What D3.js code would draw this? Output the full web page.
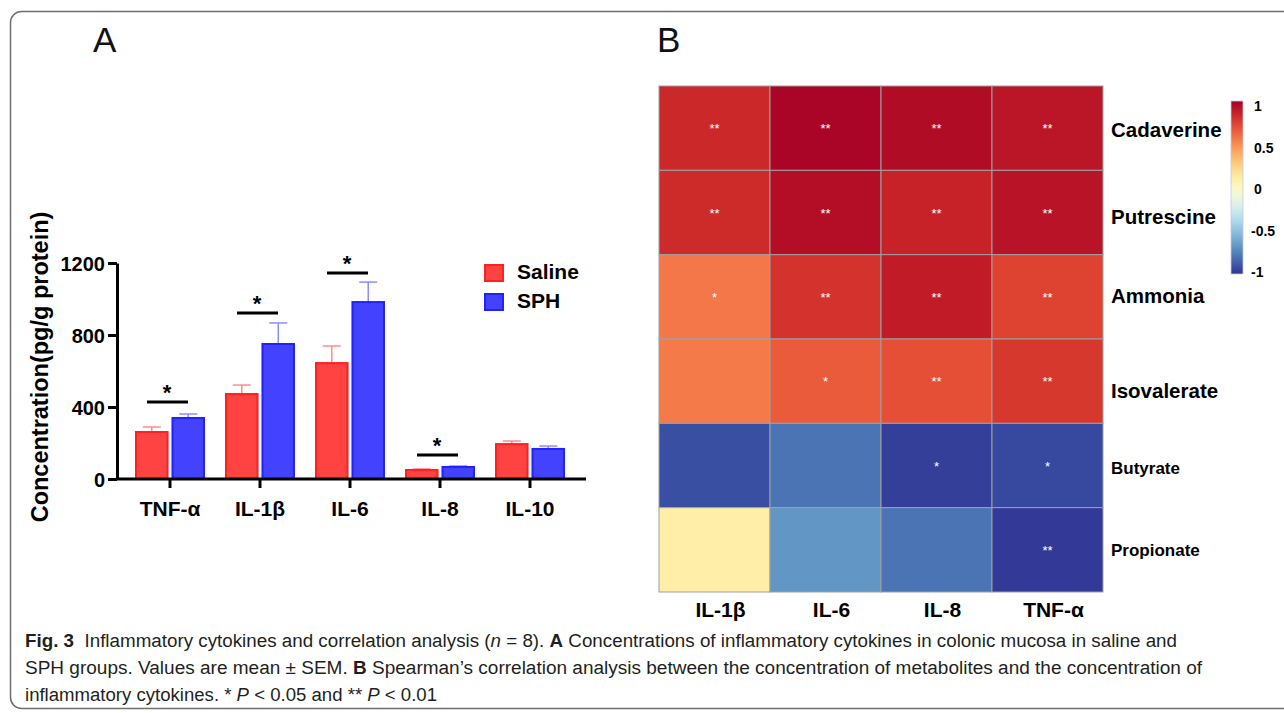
<!DOCTYPE html>
<html>
<head>
<meta charset="utf-8">
<script src="https://cdn.jsdelivr.net/npm/d3@7"></script>
<style>
  body { margin: 0; background: #fff; }
  svg text { font-family: "Liberation Sans", Arial, sans-serif; }
  .caption text { font-family: "Liberation Sans Narrow", "Liberation Sans", sans-serif; }
</style>
</head>
<body>
<svg id="fig" width="1284" height="713"></svg>
<script>
// panel A: cytokine concentrations (pg/g protein), mean and SEM
const cytokines = ['TNF-α', 'IL-1β', 'IL-6', 'IL-8', 'IL-10']
const groups = ['Saline', 'SPH']
const salineMean = [261, 472, 644, 50, 194]
const salineSem = [28, 50, 95, 6, 17]
const sphMean = [339, 750, 983, 67, 167]
const sphSem = [22, 117, 111, 5, 16]
const bracketLevel = [428, 922, 1144, 133, null]
const yTicks = [0, 400, 800, 1200]

// panel B: Spearman correlation, metabolites x cytokines
const metabolites = ['Cadaverine', 'Putrescine', 'Ammonia', 'Isovalerate', 'Butyrate', 'Propionate']
const heatCytokines = ['IL-1β', 'IL-6', 'IL-8', 'TNF-α']
const rho = [
  [0.84, 0.98, 0.95, 0.91],
  [0.83, 0.94, 0.86, 0.92],
  [0.57, 0.80, 0.89, 0.74],
  [0.56, 0.66, 0.70, 0.78],
  [-0.92, -0.80, -0.97, -0.94],
  [0.1, -0.68, -0.80, -0.99]
]
const stars = [
  ['**', '**', '**', '**'],
  ['**', '**', '**', '**'],
  ['*', '**', '**', '**'],
  ['', '*', '**', '**'],
  ['', '', '*', '*'],
  ['', '', '', '**']
]
const legendTicks = [1, 0.5, 0, -0.5, -1]

const groupFill = { Saline: '#ff4343', SPH: '#4343ff' }
const groupStroke = { Saline: '#ff2020', SPH: '#2222ff' }
const groupError = { Saline: '#ff8c8c', SPH: '#8c8cff' }

const svg = d3.select('#fig')

// frame round the figure
svg.append('rect')
  .attr('x', 10.5).attr('y', 11.5)
  .attr('width', 1320).attr('height', 697)
  .attr('rx', 11)
  .attr('fill', 'none')
  .attr('stroke', '#6e6e6e')
  .attr('stroke-width', 1.5)

svg.append('text').attr('x', 93).attr('y', 52)
  .attr('font-size', 35).attr('fill', '#111').text('A')
svg.append('text').attr('x', 657).attr('y', 52)
  .attr('font-size', 35).attr('fill', '#111').text('B')

// ---------- panel A ----------
const x0 = d3.scaleBand().domain(cytokines).range([125, 575])
const x1 = d3.scaleBand().domain(groups).range([10, 80]).paddingInner(0.08)
const y = d3.scaleLinear().domain([0, 1200]).range([479, 263])

const rows = cytokines.map((c, i) => ({
  cytokine: c,
  bars: [
    { group: 'Saline', mean: salineMean[i], sem: salineSem[i] },
    { group: 'SPH', mean: sphMean[i], sem: sphSem[i] }
  ]
}))

const barG = svg.append('g')
const cat = barG.selectAll('g.cat')
  .data(rows)
  .enter()
  .append('g')
  .attr('class', 'cat')
  .attr('transform', d => `translate(${x0(d.cytokine)},0)`)

const bar = cat.selectAll('g.bar')
  .data(d => d.bars)
  .enter()
  .append('g')

bar.append('line')
  .attr('x1', d => x1(d.group) + x1.bandwidth() / 2)
  .attr('x2', d => x1(d.group) + x1.bandwidth() / 2)
  .attr('y1', d => y(d.mean))
  .attr('y2', d => y(d.mean + d.sem))
  .attr('stroke', d => groupError[d.group])
  .attr('stroke-width', 1.5)

bar.append('line')
  .attr('x1', d => x1(d.group) + x1.bandwidth() / 2 - 9)
  .attr('x2', d => x1(d.group) + x1.bandwidth() / 2 + 9)
  .attr('y1', d => y(d.mean + d.sem))
  .attr('y2', d => y(d.mean + d.sem))
  .attr('stroke', d => groupError[d.group])
  .attr('stroke-width', 1.5)

bar.append('rect')
  .attr('x', d => x1(d.group) + 1)
  .attr('y', d => y(d.mean))
  .attr('width', x1.bandwidth() - 2)
  .attr('height', d => y(0) - y(d.mean))
  .attr('fill', d => groupFill[d.group])
  .attr('stroke', d => groupStroke[d.group])
  .attr('stroke-width', 2)

// significance brackets
const sig = barG.selectAll('g.sig')
  .data(rows.map((r, i) => ({ cytokine: r.cytokine, level: bracketLevel[i] })).filter(d => d.level != null))
  .enter()
  .append('g')
  .attr('transform', d => `translate(${x0(d.cytokine) + x0.bandwidth() / 2 - 3},${y(d.level)})`)

sig.append('line')
  .attr('x1', -20).attr('x2', 21)
  .attr('stroke', '#000').attr('stroke-width', 3)
sig.append('text')
  .attr('y', -2)
  .attr('text-anchor', 'middle')
  .attr('font-size', 22).attr('font-weight', 'bold')
  .text('*')

// axes
const yAxis = barG.append('g')
  .attr('transform', 'translate(117,0)')
  .call(d3.axisLeft(y).tickValues(yTicks).tickFormat(d3.format('d'))
    .tickSize(9).tickSizeOuter(0).tickPadding(3))
yAxis.select('.domain').attr('stroke-width', 3)
yAxis.selectAll('.tick line').attr('stroke-width', 3)
yAxis.selectAll('.tick text')
  .attr('font-size', 20).attr('font-weight', 'bold').attr('fill', '#000')
  .attr('dy', '0.36em')

const xAxis = barG.append('g')
  .attr('transform', `translate(0,${y(0)})`)
  .call(d3.axisBottom(x0).tickSize(9).tickSizeOuter(0).tickPadding(6))
xAxis.select('.domain').remove()
xAxis.append('line')
  .attr('x1', 116).attr('x2', 586)
  .attr('stroke', '#000').attr('stroke-width', 3)
xAxis.selectAll('.tick line').attr('stroke-width', 3)
xAxis.selectAll('.tick text')
  .attr('font-size', 21).attr('font-weight', 'bold').attr('fill', '#000')
  .attr('dy', '1.05em')

barG.append('text')
  .attr('transform', 'translate(48,367) rotate(-90)')
  .attr('text-anchor', 'middle')
  .attr('font-size', 23.5).attr('font-weight', 'bold')
  .text('Concentration(pg/g protein)')

const legend = barG.selectAll('g.legend')
  .data(groups)
  .enter()
  .append('g')
  .attr('transform', (d, i) => `translate(485,${265 + i * 29})`)
legend.append('rect')
  .attr('width', 18).attr('height', 16)
  .attr('fill', d => groupFill[d])
  .attr('stroke', d => groupStroke[d])
  .attr('stroke-width', 2)
legend.append('text')
  .attr('x', 32).attr('y', 14)
  .attr('font-size', 21).attr('font-weight', 'bold')
  .text(d => d)

// ---------- panel B ----------
const xh = d3.scaleBand().domain(heatCytokines).range([659, 1103])
const yh = d3.scaleBand().domain(metabolites).range([86, 592])
const color = v => d3.interpolateRdYlBu((1 - v) / 2)

const cells = []
metabolites.forEach((m, i) => heatCytokines.forEach((c, j) => {
  cells.push({ metabolite: m, cytokine: c, value: rho[i][j], mark: stars[i][j] })
}))

const heat = svg.append('g')
heat.selectAll('rect.cell')
  .data(cells)
  .enter()
  .append('rect')
  .attr('class', 'cell')
  .attr('x', d => xh(d.cytokine))
  .attr('y', d => yh(d.metabolite))
  .attr('width', xh.bandwidth())
  .attr('height', yh.bandwidth())
  .attr('fill', d => color(d.value))
  .attr('stroke', '#a0a0a0')
  .attr('stroke-width', 1)

heat.selectAll('text.mark')
  .data(cells.filter(d => d.mark))
  .enter()
  .append('text')
  .attr('x', d => xh(d.cytokine) + xh.bandwidth() / 2)
  .attr('y', d => yh(d.metabolite) + yh.bandwidth() / 2 + 5)
  .attr('text-anchor', 'middle')
  .attr('font-size', 13)
  .attr('fill', '#fff')
  .text(d => d.mark)

heat.selectAll('text.col')
  .data(heatCytokines)
  .enter()
  .append('text')
  .attr('x', d => xh(d) + xh.bandwidth() / 2 + 6)
  .attr('y', 617)
  .attr('text-anchor', 'middle')
  .attr('font-size', 21).attr('font-weight', 'bold')
  .text(d => d)

const rowNudge = [9, 11, 6, 17, 8, 6]
heat.selectAll('text.row')
  .data(metabolites)
  .enter()
  .append('text')
  .attr('x', 1111)
  .attr('y', (d, i) => yh(d) + yh.bandwidth() / 2 + rowNudge[i])
  .attr('font-size', (d, i) => i < 4 ? 20.5 : 17)
  .attr('font-weight', 'bold')
  .text(d => d)

// colour key
const cy = d3.scaleLinear().domain([-1, 1]).range([272, 106])
const grad = svg.append('defs').append('linearGradient')
  .attr('id', 'key').attr('x1', 0).attr('x2', 0).attr('y1', 1).attr('y2', 0)
grad.selectAll('stop')
  .data(d3.range(0, 1.0001, 0.05))
  .enter()
  .append('stop')
  .attr('offset', t => t)
  .attr('stop-color', t => color(t * 2 - 1))
svg.append('rect')
  .attr('x', 1231).attr('y', 101)
  .attr('width', 12).attr('height', 173)
  .attr('fill', 'url(#key)')
  .attr('stroke', '#c8c8e0').attr('stroke-width', 0.8)
svg.selectAll('text.key')
  .data(legendTicks)
  .enter()
  .append('text')
  .attr('x', d => d < 0 ? 1251 : 1254)
  .attr('y', d => cy(d) + 5)
  .attr('font-size', 14).attr('font-weight', 'bold')
  .text(d => d)

// ---------- caption ----------
const captionLines = [
  [['b', 'Fig. 3'], ['', '  Inflammatory cytokines and correlation analysis ('], ['i', 'n'], ['', ' = 8). '], ['b', 'A'],
    ['', ' Concentrations of inflammatory cytokines in colonic mucosa in saline and']],
  [['', 'SPH groups. Values are mean ± SEM. '], ['b', 'B'],
    ['', ' Spearman’s correlation analysis between the concentration of metabolites and the concentration of']],
  [['', 'inflammatory cytokines. * '], ['i', 'P'], ['', ' < 0.05 and ** '], ['i', 'P'], ['', ' < 0.01']]
]
const captionWidth = [1152, 1177, 412]

const caption = svg.append('g').attr('class', 'caption')
caption.selectAll('text')
  .data(captionLines)
  .enter()
  .append('text')
  .attr('x', 25)
  .attr('y', (d, i) => 647 + i * 27)
  .attr('font-size', 18)
  .attr('fill', '#231f20')
  .attr('textLength', (d, i) => captionWidth[i])
  .attr('lengthAdjust', 'spacingAndGlyphs')
  .attr('xml:space', 'preserve')
  .style('white-space', 'pre')
  .selectAll('tspan')
  .data(d => d)
  .enter()
  .append('tspan')
  .attr('font-weight', d => d[0] === 'b' ? 'bold' : null)
  .attr('font-style', d => d[0] === 'i' ? 'italic' : null)
  .text(d => d[1])
</script>
</body>
</html>
